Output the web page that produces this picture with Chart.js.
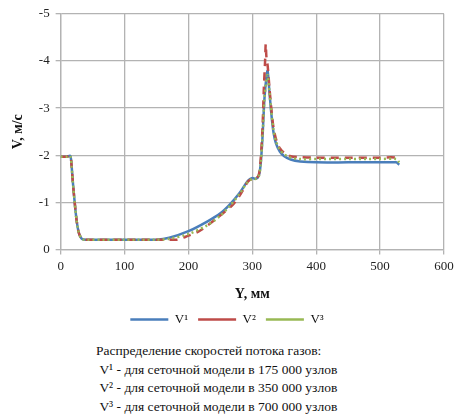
<!DOCTYPE html>
<html>
<head>
<meta charset="utf-8">
<script src="https://cdn.jsdelivr.net/npm/chart.js@4/dist/chart.umd.min.js"></script>
<style>
  html, body { margin: 0; padding: 0; background: #fff; }
  #wrap { position: relative; width: 462px; height: 336px; }
  #note { font-family: "Liberation Serif", "DejaVu Serif", serif; font-size: 13.5px; color: #111;
          padding-left: 96px; line-height: 18.5px; margin-top: 6px; }
</style>
</head>
<body>
<div id="wrap"><canvas id="c"></canvas></div>
<div id="note">
  <div>Распределение скоростей потока газов:</div>
  <div>&nbsp;V¹ - для сеточной модели в 175 000 узлов</div>
  <div>&nbsp;V² - для сеточной модели в 350 000 узлов</div>
  <div>&nbsp;V³ - для сеточной модели в 700 000 узлов</div>
</div>
<script>
const seriesNames = ["V¹", "V²", "V³"];
const xTitle = "Y, мм";
const yTitle = "V, м/с";

const x1 = [0, 10, 15, 17, 19, 22, 25, 28, 31, 34, 40, 100, 150, 170, 200, 230, 250, 265, 280, 293, 300, 305, 310, 313, 316, 319, 322, 324, 327, 330, 333, 337, 343, 350, 360, 375, 400, 450, 500, 525, 530];
const v1 = [-1.97, -1.97, -1.99, -1.8, -1.45, -1.0, -0.62, -0.38, -0.27, -0.22, -0.21, -0.21, -0.21, -0.25, -0.39, -0.6, -0.77, -0.96, -1.2, -1.46, -1.52, -1.5, -1.56, -1.8, -2.4, -3.2, -3.65, -3.79, -3.3, -2.85, -2.5, -2.25, -2.08, -1.98, -1.91, -1.87, -1.85, -1.85, -1.85, -1.85, -1.8];

const x2 = [0, 10, 15, 17, 19, 22, 25, 28, 31, 34, 40, 100, 150, 170, 181, 197, 218, 244, 270, 285, 293, 300, 305, 310, 313, 316, 318, 320, 321, 322, 324, 327, 330, 333, 337, 343, 350, 360, 375, 400, 450, 500, 525, 530];
const v2 = [-1.97, -1.97, -1.99, -1.8, -1.45, -1.0, -0.62, -0.38, -0.27, -0.22, -0.21, -0.21, -0.21, -0.21, -0.21, -0.28, -0.4, -0.66, -0.96, -1.25, -1.44, -1.5, -1.5, -1.58, -1.9, -2.6, -3.4, -4.0, -4.36, -4.1, -3.9, -3.4, -2.95, -2.6, -2.35, -2.15, -2.05, -1.98, -1.96, -1.95, -1.95, -1.95, -1.95, -1.88];

const x3 = [0, 10, 15, 17, 19, 22, 25, 28, 31, 34, 40, 100, 150, 170, 200, 230, 250, 265, 280, 293, 300, 305, 310, 313, 316, 319, 322, 324, 327, 330, 333, 337, 343, 350, 360, 375, 400, 450, 500, 525, 530];
const v3 = [-1.97, -1.97, -1.99, -1.8, -1.45, -1.0, -0.62, -0.38, -0.27, -0.22, -0.21, -0.21, -0.21, -0.23, -0.33, -0.52, -0.72, -0.93, -1.18, -1.44, -1.5, -1.5, -1.55, -1.8, -2.4, -3.2, -3.6, -3.7, -3.3, -2.9, -2.55, -2.3, -2.12, -2.02, -1.95, -1.92, -1.92, -1.92, -1.92, -1.92, -1.85];

const xTicks = [0, 100, 200, 300, 400, 500, 600];
const yTicks = [0, -1, -2, -3, -4, -5];

function pts(xs, vs) { return xs.map((x, i) => ({x: x, y: vs[i]})); }

const serif = "'Liberation Serif', 'DejaVu Serif', serif";

new Chart(document.getElementById('c'), {
  type: 'line',
  data: {
    datasets: [
      { label: seriesNames[0], data: pts(x1, v1), order: 3, borderColor: '#4a7ebb', backgroundColor: '#4a7ebb', borderWidth: 2.5, pointRadius: 0, tension: 0.3, borderDash: [] },
      { label: seriesNames[1], data: pts(x2, v2), order: 2, borderColor: '#be4b48', backgroundColor: '#be4b48', borderWidth: 2.5, pointRadius: 0, tension: 0.3, borderDash: [8, 6] },
      { label: seriesNames[2], data: pts(x3, v3), order: 1, borderColor: '#98b954', backgroundColor: '#98b954', borderWidth: 2.5, pointRadius: 0, tension: 0.3, borderDash: [2, 3] }
    ]
  },
  options: {
    responsive: true,
    maintainAspectRatio: false,
    animation: false,
    layout: { padding: { top: 3, right: 18, left: 10, bottom: 0 } },
    plugins: {
      legend: {
        position: 'bottom',
        labels: {
          font: { family: serif, size: 13 },
          color: '#111',
          usePointStyle: true,
          pointStyle: 'line',
          pointStyleWidth: 38,
          padding: 10,
          sort: (a, b) => a.datasetIndex - b.datasetIndex
        }
      },
      tooltip: { enabled: false }
    },
    scales: {
      x: {
        type: 'linear',
        min: 0, max: 600,
        afterBuildTicks: (ax) => { ax.ticks = xTicks.map(v => ({value: v})); },
        ticks: { font: { family: serif, size: 13 }, color: '#222', padding: 4 },
        grid: { color: '#b3b3b3', lineWidth: 1.3, tickLength: 5 },
        border: { color: '#b3b3b3', width: 1.3 },
        title: { display: true, text: xTitle, font: { family: serif, size: 14, weight: 'bold' }, color: '#111', padding: { top: 8, bottom: 0 } }
      },
      y: {
        type: 'linear',
        min: -5, max: 0,
        reverse: true,
        afterBuildTicks: (ax) => { ax.ticks = yTicks.map(v => ({value: v})); },
        ticks: { font: { family: serif, size: 13 }, color: '#222', padding: 6 },
        grid: { color: '#b3b3b3', lineWidth: 1.3, tickLength: 5 },
        border: { color: '#b3b3b3', width: 1.3 },
        title: { display: true, text: yTitle, font: { family: serif, size: 14, weight: 'bold' }, color: '#111', padding: { top: 0, bottom: 6 } }
      }
    }
  }
});
</script>
</body>
</html>
